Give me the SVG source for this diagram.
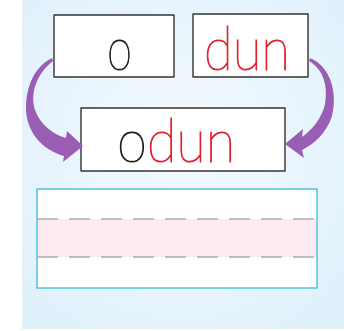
<svg xmlns="http://www.w3.org/2000/svg" width="344" height="331" viewBox="0 0 344 331">
<defs>
<radialGradient id="bg" cx="0.5" cy="0.45" r="0.7">
<stop offset="0" stop-color="#f4fafe"/>
<stop offset="1" stop-color="#dff0fb"/>
</radialGradient>
<style>
.box{fill:#fff;stroke:#333;stroke-width:1.4;stroke-linejoin:round}
.t{font-family:Lato,"Liberation Sans",sans-serif;font-weight:100;font-size:59px;stroke-width:1.1}
.blk{fill:#222;stroke:#222}
.red{fill:#e3202c;stroke:#e3202c}
.arr{fill:#9a5db4}
.dash{stroke:#aaa;stroke-width:1.3;stroke-dasharray:21 11;fill:none}
</style>
</defs>
<rect x="0" y="0" width="344" height="331" fill="#fff"/>
<rect x="22" y="0" width="322" height="329" fill="url(#bg)"/>
<g id="box-o">
<rect class="box" x="54" y="15" width="120" height="62"/>
<text class="t blk" x="107" y="70" textLength="25" lengthAdjust="spacingAndGlyphs">o</text>
</g>
<g id="box-dun">
<rect class="box" x="193" y="14" width="115" height="63"/>
<text class="t red" x="204" y="70" textLength="86" lengthAdjust="spacingAndGlyphs">dun</text>
</g>
<g id="box-odun">
<rect class="box" x="81" y="108" width="204" height="63"/>
<text class="t" transform="translate(117,162) scale(0.92,1)"><tspan class="blk">o</tspan><tspan class="red">dun</tspan></text>
</g>
<g id="connectors">
<path class="arr" d="M52,58 C30,68 22,100 28,122 C34,142 50,152 64,156 L63,162 L83,146 L67,131 L66,138 C52,134 40,124 35,110 C30,94 36,74 53,61 Z"/>
<path class="arr" d="M310,58 C330,66 338,92 332,116 C326,134 314,144 302,150 L304,158 L285,144 L303,129 L302,137 C312,130 322,118 325,104 C328,86 324,70 309,61 Z"/>
</g>
<g id="writing-box">
<rect x="37" y="189" width="280" height="99" fill="#fff"/>
<rect x="37" y="219" width="280" height="38" fill="#fdebf1"/>
<line class="dash" x1="37" y1="219" x2="317" y2="219"/>
<line class="dash" x1="37" y1="257" x2="317" y2="257"/>
<rect x="37" y="189" width="280" height="99" fill="none" stroke="#5cc6df" stroke-width="1.6"/>
</g>
</svg>
